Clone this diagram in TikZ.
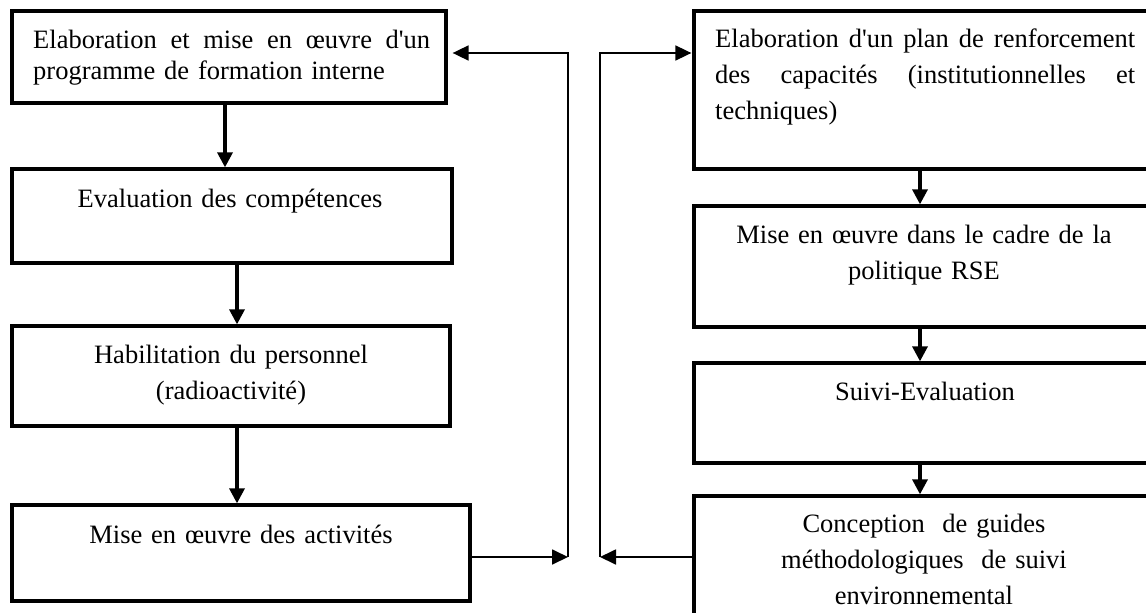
\documentclass[tikz,border=0pt]{standalone}
\usepackage{fontspec}
\setmainfont{Liberation Serif}[Ligatures=TeXOff]
\usetikzlibrary{arrows.meta}
\begin{document}
\begin{tikzpicture}[x=1pt,y=-1pt,
  box/.style={draw, line width=3.3pt, rectangle, inner sep=0pt},
  txt/.style={font=\fontsize{26.5}{36}\selectfont, inner sep=0pt, anchor=base, text width=440pt, align=center},
  jtxt/.style={font=\fontsize{26.5}{36}\selectfont, inner sep=0pt, anchor=base west, align=left},
  flow/.style={line width=3.3pt, -{Triangle[length=15pt,width=15pt]}},
  conn/.style={line width=1.8pt, -{Triangle[length=16pt,width=15pt]}}
]
\useasboundingbox (0,0) rectangle (1146,613);
\fill[white] (0,0) rectangle (1146,613);
\clip (0,0) rectangle (1146,613);

% left column
\node[box, minimum width=434pt, minimum height=92pt]  (L1) at (229,57)  {};
\node[box, minimum width=440pt, minimum height=94pt]  (L2) at (232,216) {};
\node[box, minimum width=438pt, minimum height=100pt] (L3) at (231,376) {};
\node[box, minimum width=458pt, minimum height=96pt]  (L4) at (241,553) {};

\node[jtxt, text width=397pt, font=\fontsize{26.5}{32}\selectfont] (L1t) at (33,48)
  {\makebox[397pt][s]{Elaboration\hfill et\hfill mise\hfill en\hfill œuvre\hfill d'un}\\
   programme de formation interne};
\node[txt] (L2t) at (230,207) {Evaluation des compétences};
\node[txt] (L3t) at (231,363) {Habilitation du personnel\\(radioactivité)};
\node[txt] (L4t) at (241,543) {Mise en œuvre des activités};

% right column
\node[box, minimum width=486pt, minimum height=158pt] (R1) at (937,90)    {};
\node[box, minimum width=486pt, minimum height=121pt] (R2) at (937,266.5) {};
\node[box, minimum width=486pt, minimum height=100pt] (R3) at (937,413)   {};
\node[box, minimum width=486pt, minimum height=154pt] (R4) at (937,573)   {};

\node[jtxt, text width=420pt] (R1t) at (715,47)
  {\makebox[420pt][s]{Elaboration\hfill d'un\hfill plan\hfill de\hfill renforcement}\\
   \makebox[420pt][s]{des\hfill capacités\hfill (institutionnelles\hfill et}\\
   techniques)};
\node[txt] (R2t) at (924,243) {Mise en œuvre dans le cadre de la\\politique RSE};
\node[txt] (R3t) at (925,400) {Suivi-Evaluation};
\node[txt] (R4t) at (924,532) {Conception~ de guides\\méthodologiques~ de suivi\\environnemental};

% arrow x positions
\coordinate (xa) at (225,0);
\coordinate (xb) at (237,0);
\coordinate (xr) at (920,0);

\draw[flow] (L1.south -| xa) -- (L2.north -| xa);
\draw[flow] (L2.south -| xb) -- (L3.north -| xb);
\draw[flow] (L3.south -| xb) -- (L4.north -| xb);

\draw[flow] (R1.south -| xr) -- (R2.north -| xr);
\draw[flow] (R2.south -| xr) -- (R3.north -| xr);
\draw[flow] (R3.south -| xr) -- (R4.north -| xr);

% feedback connectors
\coordinate (jl) at (568,557);
\coordinate (tl) at (568,53);
\coordinate (jr) at (600,557);
\coordinate (tr) at (600,53);

\draw[conn] (L4.east |- jl) -- (jl);
\draw[conn, shorten >=5pt] (jl) -- (tl) -- (L1.east |- tl);
\draw[conn] (R4.west |- jr) -- (jr);
\draw[conn, shorten >=1pt] (jr) -- (tr) -- (R1.west |- tr);
\end{tikzpicture}
\end{document}
